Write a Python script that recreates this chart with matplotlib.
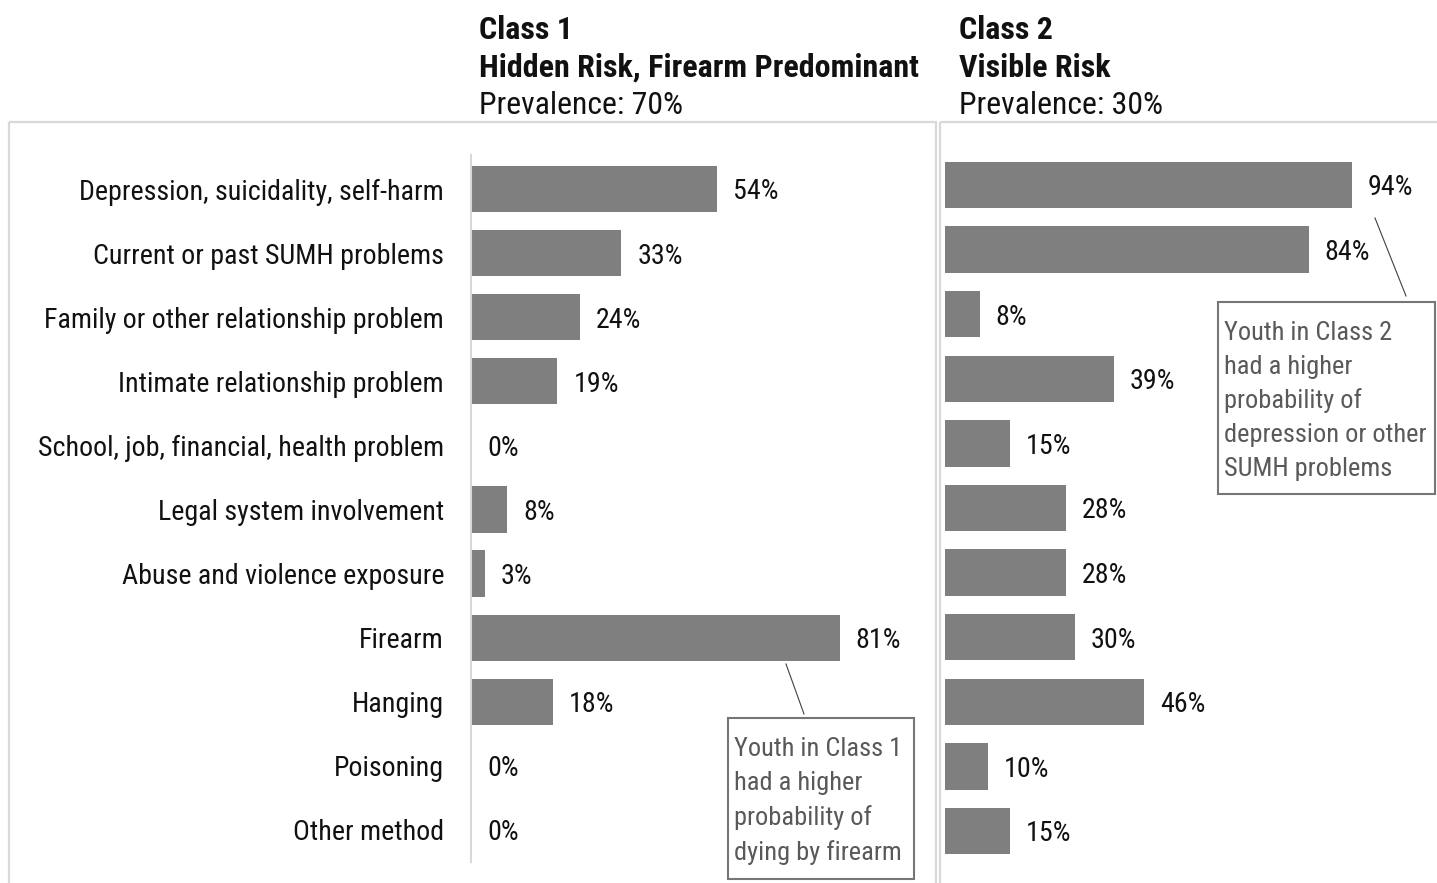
import matplotlib
matplotlib.use("Agg")
import matplotlib.pyplot as plt
from matplotlib import font_manager as fm
from matplotlib.patches import Rectangle

# ---------------- data ----------------
categories = [
    "Depression, suicidality, self-harm",
    "Current or past SUMH problems",
    "Family or other relationship problem",
    "Intimate relationship problem",
    "School, job, financial, health problem",
    "Legal system involvement",
    "Abuse and violence exposure",
    "Firearm",
    "Hanging",
    "Poisoning",
    "Other method",
]
class1_values = [54, 33, 24, 19, 0, 8, 3, 81, 18, 0, 0]
class2_values = [94, 84, 8, 39, 15, 28, 28, 30, 46, 10, 15]

class1_title = "Class 1"
class1_name = "Hidden Risk, Firearm Predominant"
class1_prev = "Prevalence: 70%"
class2_title = "Class 2"
class2_name = "Visible Risk"
class2_prev = "Prevalence: 30%"

note1_lines = ["Youth in Class 1", "had a higher", "probability of", "dying by firearm"]
note2_lines = ["Youth in Class 2", "had a higher", "probability of",
               "depression or other", "SUMH problems"]

# ---------------- setup ----------------
W, H = 1437, 883
fig = plt.figure(figsize=(W / 100, H / 100), dpi=100)
fig.patch.set_facecolor("white")

names = {f.name for f in fm.fontManager.ttflist}
if "Roboto Condensed" in names:
    FAM = "Roboto Condensed"
elif "Roboto" in names:
    FAM = "Roboto"
else:
    FAM = "DejaVu Sans"

renderer = fig.canvas.get_renderer()


def fit(s, target_px, weight="normal", cap=None):
    fp = fm.FontProperties(family=FAM, size=20, weight=weight)
    w, h, d = renderer.get_text_width_height_descent(s, fp, ismath=False)
    size = 20 * target_px / w
    if cap is not None:
        size = min(size, cap)
    return size


lab_size = (fit("School, job, financial, health problem", 406, cap=22)
            + fit("Depression, suicidality, self-harm", 364, cap=22)) / 2
hdr_bold = fit(class1_name, 437, "bold", cap=25)
hdr_reg = fit(class1_prev, 204, cap=25)
note_size = fit("depression or other", 202, cap=20)

TXT = "#111111"
BAR = "#7f7f7f"
GRID = "#d9d9d9"

# background overlay (pixel coordinates)
bg = fig.add_axes([0, 0, 1, 1], zorder=0)
bg.set_xlim(0, W)
bg.set_ylim(H, 0)
bg.axis("off")
bg.add_patch(Rectangle((9, 122), 927, 900, fill=False, ec=GRID, lw=1.6))
bg.add_patch(Rectangle((940, 122), 700, 900, fill=False, ec=GRID, lw=1.6))

# headers
for x0, t, n, p in [(479, class1_title, class1_name, class1_prev),
                    (959, class2_title, class2_name, class2_prev)]:
    bg.text(x0, 27, t, family=FAM, weight="bold", size=hdr_bold, color=TXT,
            va="center_baseline", ha="left")
    bg.text(x0, 65, n, family=FAM, weight="bold", size=hdr_bold, color=TXT,
            va="center_baseline", ha="left")
    bg.text(x0, 102, p, family=FAM, size=hdr_reg, color=TXT,
            va="center_baseline", ha="left")

ypos = list(range(len(categories)))
YLIM = (10.50, -0.53)


def px_axes(left, right, top, bottom):
    return [left / W, 1 - bottom / H, (right - left) / W, (bottom - top) / H]


# ---------------- Class 1 panel ----------------
ax1 = fig.add_axes(px_axes(471, 926, 155, 862), zorder=1)
ax1.patch.set_alpha(0)
ax1.barh(ypos, class1_values, height=0.72, color=BAR)
ax1.set_xlim(0, 100)
ax1.set_ylim(*YLIM)
ax1.set_yticks(ypos)
ax1.set_yticklabels(categories, family=FAM, size=lab_size, color=TXT)
ax1.tick_params(axis="y", length=0, pad=27 * 0.72)
ax1.set_xticks([])
for s in ["top", "right", "bottom"]:
    ax1.spines[s].set_visible(False)
ax1.spines["left"].set_color(GRID)
ax1.spines["left"].set_linewidth(1.5)
for i, v in zip(ypos, class1_values):
    ax1.annotate(f"{v}%", xy=(v, i), xytext=(16, 0), textcoords="offset pixels",
                 va="center_baseline", ha="left", family=FAM, size=lab_size, color=TXT)

# ---------------- Class 2 panel ----------------
top2 = 185 - 0.53 * 64.6
bot2 = 185 + 10.5 * 64.6
ax2 = fig.add_axes(px_axes(945, 1378, top2, bot2), zorder=1)
ax2.patch.set_alpha(0)
ax2.barh(ypos, class2_values, height=0.72, color=BAR)
ax2.set_xlim(0, 100)
ax2.set_ylim(*YLIM)
ax2.set_yticks([])
ax2.set_xticks([])
for s in ["top", "right", "bottom", "left"]:
    ax2.spines[s].set_visible(False)
for i, v in zip(ypos, class2_values):
    ax2.annotate(f"{v}%", xy=(v, i), xytext=(16, 0), textcoords="offset pixels",
                 va="center_baseline", ha="left", family=FAM, size=lab_size, color=TXT)

# ---------------- callouts ----------------
fg = fig.add_axes([0, 0, 1, 1], zorder=5)
fg.set_xlim(0, W)
fg.set_ylim(H, 0)
fg.axis("off")
fg.patch.set_alpha(0)

NOTE_TXT = "#595959"
NOTE_EC = "#767676"
fg.plot([786, 804], [664, 714], color="#404040", lw=0.8)
fg.add_patch(Rectangle((728, 718), 186, 161, fc="white", ec=NOTE_EC, lw=1.5))
for k, line in enumerate(note1_lines):
    fg.text(734, 746 + 34.6 * k, line, family=FAM, size=note_size, color=NOTE_TXT,
            va="center_baseline", ha="left")

fg.plot([1375, 1406], [218, 296], color="#404040", lw=0.8)
fg.add_patch(Rectangle((1218, 302), 217, 192, fc="white", ec=NOTE_EC, lw=1.5))
for k, line in enumerate(note2_lines):
    fg.text(1224, 330 + 34.1 * k, line, family=FAM, size=note_size, color=NOTE_TXT,
            va="center_baseline", ha="left")

fig.savefig("out.png", dpi=100, facecolor="white")
